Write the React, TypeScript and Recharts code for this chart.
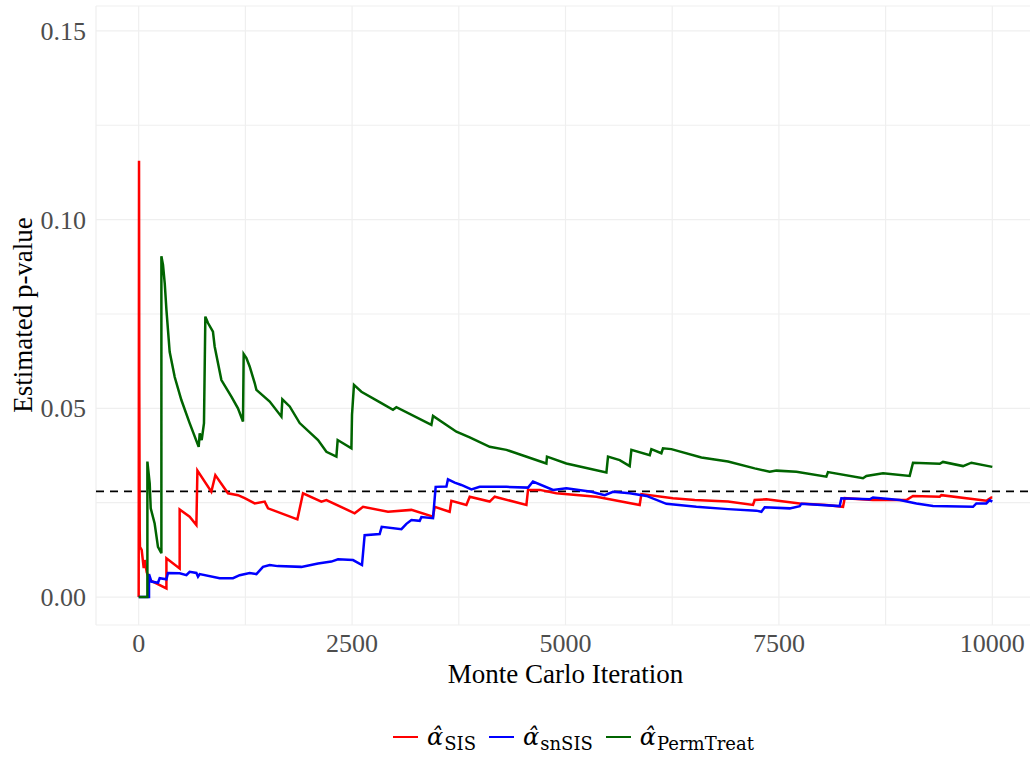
import React from 'react'
import { LineChart, Line, XAxis, YAxis, CartesianGrid, ReferenceLine } from 'recharts'

// iterations / estimated p-values
const sisIter = [0, 4, 7, 12, 15, 35, 59, 70, 94, 129, 325, 325, 480, 480, 597, 676, 688, 851, 898, 1046, 1163, 1242, 1359, 1476, 1515, 1859, 1925, 2140, 2199, 2530, 2628, 2921, 3195, 3448, 3468, 3643, 3663, 3839, 3878, 4112, 4171, 4542, 4561, 4698, 4893, 5362, 5869, 5889, 6259, 6514, 6904, 7197, 7216, 7353, 7744, 8056, 8251, 8271, 8602, 8994, 9071, 9384, 9403, 9930, 9989, 10000]
const sisValue = [0, 0.1156, 0.0575, 0.0178, 0.0133, 0.0125, 0.0077, 0.0098, 0.0066, 0.0045, 0.0023, 0.0103, 0.0076, 0.0232, 0.0213, 0.0191, 0.0335, 0.0279, 0.0323, 0.0275, 0.027, 0.0262, 0.0248, 0.0253, 0.0235, 0.0206, 0.0275, 0.0253, 0.0257, 0.0222, 0.0239, 0.0226, 0.0231, 0.0213, 0.0239, 0.0226, 0.0255, 0.0244, 0.0266, 0.0253, 0.0266, 0.0244, 0.0284, 0.0284, 0.0275, 0.0266, 0.0244, 0.0273, 0.0262, 0.0257, 0.0253, 0.0244, 0.0257, 0.0259, 0.0248, 0.0244, 0.0239, 0.0262, 0.0257, 0.0257, 0.0268, 0.0266, 0.027, 0.0255, 0.0264, 0.0264]

const snIter = [0, 121, 121, 149, 226, 246, 325, 343, 480, 559, 597, 676, 695, 715, 949, 1105, 1183, 1300, 1379, 1456, 1535, 1628, 1906, 2101, 2257, 2335, 2511, 2616, 2647, 2823, 2847, 3078, 3136, 3195, 3292, 3312, 3448, 3479, 3605, 3623, 3702, 3780, 3898, 3995, 4308, 4561, 4619, 4854, 5010, 5303, 5459, 5557, 5752, 5948, 6182, 6533, 6904, 7236, 7295, 7334, 7627, 7744, 7763, 8212, 8232, 8564, 8602, 8915, 9111, 9305, 9774, 9813, 9930, 9969, 10000]
const snValue = [0, 0, 0.0061, 0.0041, 0.0038, 0.005, 0.0047, 0.0064, 0.0063, 0.0058, 0.0067, 0.0064, 0.0054, 0.0061, 0.005, 0.005, 0.0058, 0.0064, 0.0061, 0.008, 0.0085, 0.0082, 0.008, 0.0089, 0.0094, 0.01, 0.0098, 0.0085, 0.0164, 0.0167, 0.0186, 0.018, 0.0194, 0.0204, 0.0202, 0.0212, 0.0209, 0.0292, 0.0293, 0.0312, 0.0303, 0.0297, 0.0285, 0.0292, 0.0292, 0.029, 0.0306, 0.0284, 0.0288, 0.0279, 0.027, 0.0279, 0.0275, 0.0268, 0.0247, 0.0239, 0.0233, 0.0229, 0.0226, 0.0238, 0.0235, 0.0241, 0.0247, 0.0241, 0.0262, 0.0259, 0.0264, 0.0257, 0.0248, 0.0241, 0.0239, 0.0248, 0.0248, 0.0257, 0.0253]

const permIter = [0, 102, 102, 129, 141, 187, 226, 266, 266, 285, 305, 325, 363, 422, 500, 597, 703, 715, 738, 765, 781, 812, 870, 890, 969, 1086, 1163, 1222, 1230, 1262, 1300, 1359, 1379, 1535, 1672, 1683, 1769, 1886, 2101, 2199, 2316, 2331, 2492, 2499, 2522, 2609, 2843, 2979, 3019, 3429, 3448, 3722, 3878, 4112, 4308, 4776, 4783, 5010, 5479, 5498, 5635, 5752, 5772, 5987, 6006, 6123, 6142, 6240, 6592, 6904, 7216, 7392, 7471, 7705, 8056, 8075, 8485, 8525, 8720, 9032, 9071, 9384, 9422, 9657, 9755, 10000]
const permValue = [0, 0, 0.0359, 0.0301, 0.0235, 0.0195, 0.0133, 0.0116, 0.0903, 0.088, 0.0832, 0.0761, 0.065, 0.0583, 0.0522, 0.0461, 0.0398, 0.0434, 0.0416, 0.0461, 0.0743, 0.0726, 0.0703, 0.0664, 0.0575, 0.0531, 0.05, 0.0465, 0.0644, 0.0633, 0.0611, 0.0567, 0.0549, 0.0518, 0.0478, 0.0524, 0.0505, 0.0461, 0.0416, 0.0385, 0.0372, 0.0416, 0.0394, 0.0483, 0.0562, 0.0544, 0.0514, 0.0496, 0.0503, 0.0456, 0.048, 0.0438, 0.0423, 0.0398, 0.039, 0.0354, 0.0372, 0.0354, 0.033, 0.0372, 0.0363, 0.0347, 0.039, 0.0376, 0.0392, 0.0381, 0.0394, 0.0392, 0.037, 0.0359, 0.0341, 0.0332, 0.0335, 0.0332, 0.0319, 0.0331, 0.0315, 0.0321, 0.0328, 0.0321, 0.0356, 0.0353, 0.0358, 0.0347, 0.0356, 0.0345]

const trueP = 0.028
const xTicks = [0, 1250, 2500, 3750, 5000, 6250, 7500, 8750, 10000]
const yTicks = [0, 0.025, 0.05, 0.075, 0.1, 0.125, 0.15]

const legendItems = [
  { sub: 'SIS', color: '#ff0000' },
  { sub: 'snSIS', color: '#0000ff' },
  { sub: 'PermTreat', color: '#006400' },
]

const toPoints = (xs: number[], ys: number[]) => xs.map((x, i) => ({ x, y: ys[i] }))

const serif = '"Liberation Serif", "Times New Roman", serif'

const XTick = ({ x, y, payload }: any) =>
  payload.value % 2500 === 0 ? (
    <text x={x} y={y + 27} textAnchor="middle" fill="#4d4d4d" fontSize={26} fontFamily={serif}>
      {payload.value}
    </text>
  ) : (
    <g />
  )

const YTick = ({ x, y, payload }: any) =>
  Math.round(payload.value * 1000) % 50 === 0 ? (
    <text x={x - 10} y={y + 9} textAnchor="end" fill="#4d4d4d" fontSize={26} fontFamily={serif}>
      {payload.value.toFixed(2)}
    </text>
  ) : (
    <g />
  )

export default function App() {
  return (
    <div style={{ position: 'absolute', left: 0, top: 0, width: 1030, height: 758, overflow: 'hidden', background: '#fff' }}>
      <LineChart width={1040} height={758} margin={{ top: 6, right: 5, left: 0, bottom: 0 }}>
        <CartesianGrid stroke="#efefef" strokeWidth={1.2} />
        <XAxis
          type="number"
          dataKey="x"
          domain={[-500, 10500]}
          ticks={xTicks}
          interval={0}
          axisLine={false}
          tickLine={false}
          tickSize={0}
          tickMargin={0}
          height={133}
          tick={<XTick />}
          label={{
            content: ({ viewBox }: any) => (
              <text x={viewBox.x + viewBox.width / 2} y={viewBox.y + 58} textAnchor="middle" fontSize={27} fontFamily={serif} fill="#000">
                Monte Carlo Iteration
              </text>
            ),
          }}
        />
        <YAxis
          type="number"
          dataKey="y"
          domain={[-0.0074, 0.1566]}
          ticks={yTicks}
          interval={0}
          axisLine={false}
          tickLine={false}
          tickSize={0}
          tickMargin={0}
          width={96}
          tick={<YTick />}
          label={{
            content: () => (
              <text x={32} y={315} transform="rotate(-90, 32, 315)" textAnchor="middle" fontSize={27} fontFamily={serif} fill="#000">
                Estimated p-value
              </text>
            ),
          }}
        />
        <ReferenceLine y={trueP} stroke="#000" strokeWidth={1.6} strokeDasharray="8 6" />
        <Line data={toPoints(sisIter, sisValue)} dataKey="y" type="linear" stroke="#ff0000" strokeWidth={2.5} dot={false} activeDot={false} isAnimationActive={false} />
        <Line data={toPoints(snIter, snValue)} dataKey="y" type="linear" stroke="#0000ff" strokeWidth={2.5} dot={false} activeDot={false} isAnimationActive={false} />
        <Line data={toPoints(permIter, permValue)} dataKey="y" type="linear" stroke="#006400" strokeWidth={2.5} dot={false} activeDot={false} isAnimationActive={false} />
      </LineChart>
      <div style={{ position: 'absolute', left: 393, top: 722, display: 'flex', alignItems: 'center' }}>
        {legendItems.map((item) => (
          <div key={item.sub} style={{ display: 'flex', alignItems: 'center', marginRight: 13 }}>
            <div style={{ width: 25, height: 2.5, background: item.color, marginRight: 9 }} />
            <span style={{ fontFamily: '"DejaVu Serif", serif', fontStyle: 'italic', fontSize: 24, lineHeight: '30px' }}>α̂</span>
            <span style={{ fontFamily: '"DejaVu Serif", serif', fontSize: 18, position: 'relative', top: 6, marginLeft: 1 }}>{item.sub}</span>
          </div>
        ))}
      </div>
    </div>
  )
}
